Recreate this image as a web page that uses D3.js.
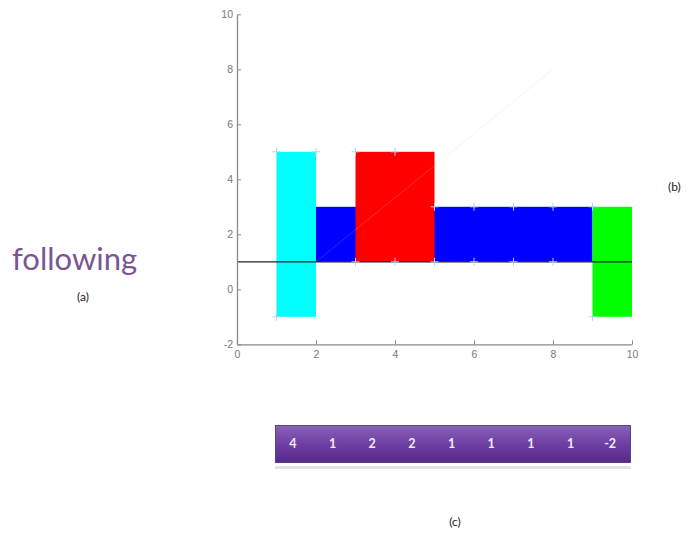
<!DOCTYPE html>
<html><head><meta charset="utf-8">
<script src="https://cdn.jsdelivr.net/npm/d3@7/dist/d3.min.js"></script>
<style>body{margin:0;background:#fff;}svg{display:block;}</style>
</head><body>
<script>
// data
const rectX0 = [1, 2, 3, 9];
const rectX1 = [2, 9, 5, 10];
const rectY0 = [-1, 1, 1, -1];
const rectY1 = [5, 3, 5, 3];
const rectColors = ["#00ffff", "#0000ff", "#ff0000", "#00ff00"];
const markerX = [1, 2, 3, 4, 3, 4, 5, 6, 7, 8, 5, 6, 7, 8, 1, 9, 9];
const markerY = [5, 5, 5, 5, 1, 1, 1, 1, 1, 1, 3, 3, 3, 3, -1, -1, 3];
const baseline = 1;
const diagX = [2, 8];
const diagY = [1, 8];
const xTicks = [0, 2, 4, 6, 8, 10];
const yTicks = [-2, 0, 2, 4, 6, 8, 10];
const codeValues = ["4", "1", "2", "2", "1", "1", "1", "1", "-2"];

const W = 689, H = 536;
const svg = d3.select("body").append("svg").attr("width", W).attr("height", H);
const x = d3.scaleLinear().domain([0, 10]).range([237, 632]);
const y = d3.scaleLinear().domain([-2, 10]).range([344.3, 14.3]);

// bars
const g = svg.append("g");
g.selectAll("rect.bar").data(rectX0).join("rect")
  .attr("x", (d, i) => x(rectX0[i]))
  .attr("width", (d, i) => x(rectX1[i]) - x(rectX0[i]))
  .attr("y", (d, i) => y(rectY1[i]))
  .attr("height", (d, i) => y(rectY0[i]) - y(rectY1[i]))
  .attr("fill", (d, i) => rectColors[i]);

// faint diagonal
g.append("line")
  .attr("x1", x(diagX[0])).attr("y1", y(diagY[0]))
  .attr("x2", x(diagX[1])).attr("y2", y(diagY[1]))
  .attr("stroke", "#d0d0e0").attr("stroke-width", 1).attr("opacity", 0.2);

// baseline
g.append("line")
  .attr("x1", x(0)).attr("x2", x(10))
  .attr("y1", y(baseline)).attr("y2", y(baseline))
  .attr("stroke", "#222").attr("stroke-width", 1.2);

// markers
const m = 4;
const mk = g.selectAll("g.mk").data(markerX).join("g")
  .attr("transform", (d, i) => `translate(${x(markerX[i])},${y(markerY[i])})`);
mk.append("line").attr("x1", -m).attr("x2", m).attr("stroke", "#a8d8f0").attr("stroke-width", 1);
mk.append("line").attr("y1", -m).attr("y2", m).attr("stroke", "#a8d8f0").attr("stroke-width", 1);

// axes
const axCol = "#8a8a8a";
const fmt = d => String(d);
const xAxis = svg.append("g").attr("transform", `translate(0,${y(-2)})`)
  .call(d3.axisBottom(x).tickValues(xTicks).tickFormat(fmt).tickSizeInner(-4).tickSizeOuter(0).tickPadding(6));
const yAxis = svg.append("g").attr("transform", `translate(${x(0)},0)`)
  .call(d3.axisLeft(y).tickValues(yTicks).tickFormat(fmt).tickSizeInner(-4).tickSizeOuter(0).tickPadding(4));
[xAxis, yAxis].forEach(a => {
  a.select(".domain").attr("stroke", axCol).attr("stroke-width", 1.3);
  a.selectAll(".tick line").attr("stroke", axCol);
  a.selectAll(".tick text").attr("fill", "#777").attr("font-family", "Liberation Sans, Arial, sans-serif").attr("font-size", 10.5);
});

// side labels
svg.append("text").attr("x", 12).attr("y", 270).text("following")
  .attr("font-family", "Lato, 'Open Sans', sans-serif").attr("font-size", 31)
  .attr("fill", "#7a5592");
svg.append("text").attr("x", 83).attr("y", 301).attr("text-anchor", "middle").text("(a)")
  .attr("font-family", "Lato, sans-serif").attr("font-size", 12).attr("fill", "#222");
svg.append("text").attr("x", 668).attr("y", 191).text("(b)")
  .attr("font-family", "Lato, sans-serif").attr("font-size", 12).attr("fill", "#222");
svg.append("text").attr("x", 455).attr("y", 526).attr("text-anchor", "middle").text("(c)")
  .attr("font-family", "Lato, sans-serif").attr("font-size", 12).attr("fill", "#222");

// code bar
const defs = svg.append("defs");
const grad = defs.append("linearGradient").attr("id", "pg").attr("x1", 0).attr("x2", 0).attr("y1", 0).attr("y2", 1);
grad.append("stop").attr("offset", "0%").attr("stop-color", "#8a62b8");
grad.append("stop").attr("offset", "50%").attr("stop-color", "#6d3fa3");
grad.append("stop").attr("offset", "100%").attr("stop-color", "#57298a");
const cx = d3.scaleBand().domain(d3.range(codeValues.length)).range([273, 630]);
svg.append("rect").attr("x", 275).attr("y", 466).attr("width", 356).attr("height", 3).attr("fill", "#e2e2e6");
svg.append("rect").attr("x", 275.5).attr("y", 425.5).attr("width", 355).attr("height", 37)
  .attr("fill", "url(#pg)").attr("stroke", "#4a2a70").attr("stroke-width", 0.8);
svg.selectAll("text.code").data(codeValues).join("text")
  .attr("x", (d, i) => cx(i) + cx.bandwidth() / 2)
  .attr("y", 448)
  .attr("text-anchor", "middle")
  .attr("font-family", "Lato, 'Open Sans', sans-serif").attr("font-weight", "bold").attr("font-size", 12.5)
  .attr("fill", "#f2ecf8")
  .text(d => d);
</script>
</body></html>
